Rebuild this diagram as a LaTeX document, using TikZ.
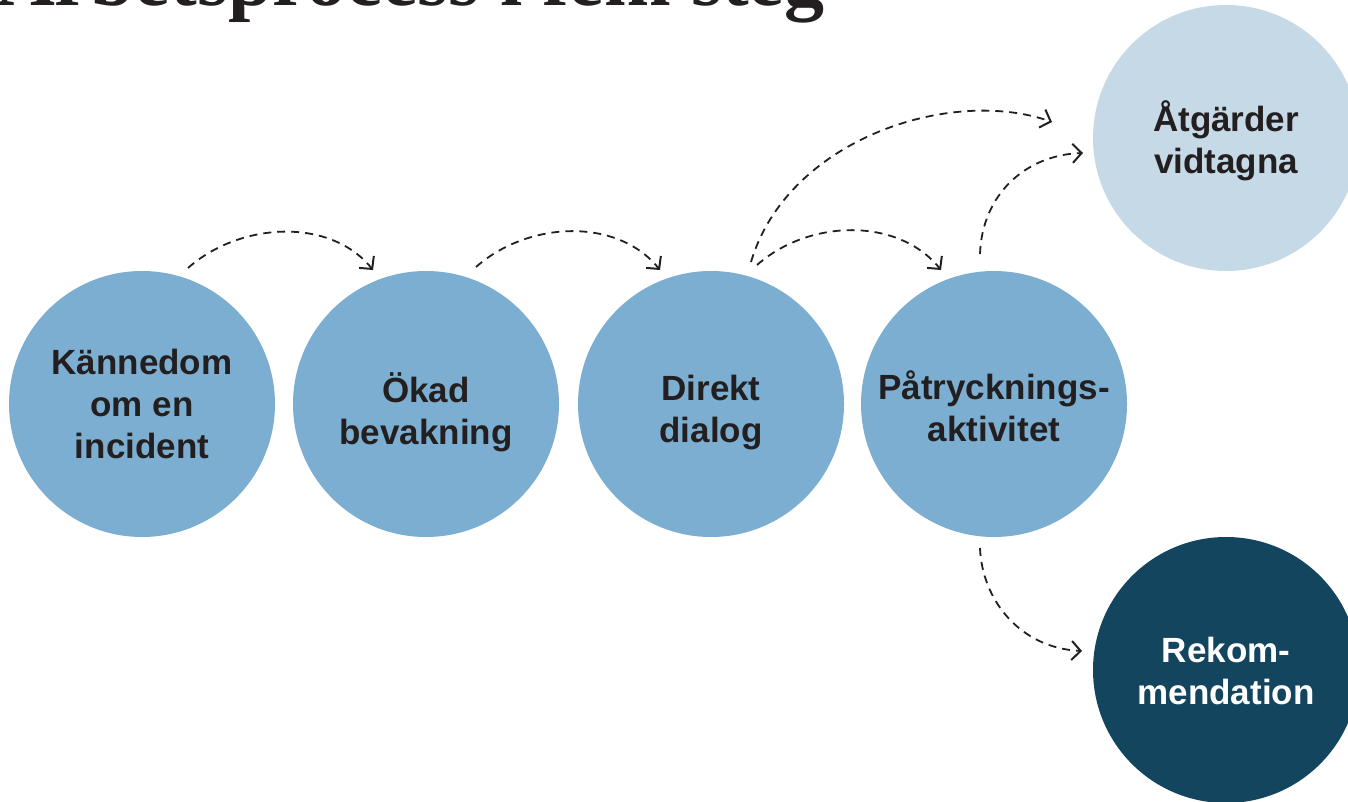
\documentclass[tikz,border=0pt]{standalone}
\usepackage{fontspec}
\setmainfont{Liberation Sans}
\newfontfamily\titlefont{Liberation Serif}
\usetikzlibrary{arrows.meta,calc}
\definecolor{midblue}{HTML}{7BAED0}
\definecolor{lightblue}{HTML}{C5D9E7}
\definecolor{darkblue}{HTML}{13455F}
\definecolor{ink}{HTML}{231F20}
\tikzset{
  stepcircle/.style={circle, minimum size=266pt, inner sep=0pt, fill=midblue},
  lightcircle/.style={stepcircle, fill=lightblue},
  darkcircle/.style={stepcircle, fill=darkblue},
  steptext/.style={text=ink, align=center, inner sep=0pt,
    font=\fontsize{35}{42}\selectfont\bfseries},
  whitetext/.style={steptext, text=white},
  flow/.style={line width=1.8pt, ink, dash pattern=on 8pt off 6pt,
    -{Straight Barb[length=9pt,width=19pt,line width=2pt]}},
}
\begin{document}
\begin{tikzpicture}[x=1pt,y=-1pt]
\clip (0,0) rectangle (1348,802);
\node[anchor=base west, inner sep=0pt, text=ink, font=\titlefont\fontsize{80}{80}\selectfont\bfseries] (title) at (-3,6) {Arbetsprocess i fem steg};
\node[stepcircle, label={[steptext]center:Kännedom\\om en\\incident}] (k) at (142,404) {};
\node[stepcircle, label={[steptext, yshift=-8pt]center:Ökad\\bevakning}] (o) at (426,404) {};
\node[stepcircle, label={[steptext, yshift=-9pt]center:Direkt\\dialog}] (d) at (711,404) {};
\node[stepcircle, label={[steptext, yshift=-2pt]center:Påtrycknings-\\aktivitet}] (p) at (994,404) {};
\node[lightcircle, label={[steptext, yshift=-3pt]center:Åtgärder\\vidtagna}] (a) at (1226,138) {};
\node[darkcircle, label={[whitetext, yshift=-1pt]center:Rekom-\\mendation}] (r) at (1226,670) {};
% connector end points
\coordinate (k1) at ($(k.center)+(46,-136)$);
\coordinate (o0) at ($(o.center)+(-53,-134)$);
\coordinate (o1) at ($(o.center)+(50,-137)$);
\coordinate (d0) at ($(d.center)+(-51,-134)$);
\coordinate (d1) at ($(d.center)+(46,-139)$);
\coordinate (d2) at ($(d.center)+(40,-142)$);
\coordinate (p0) at ($(p.center)+(-53,-134)$);
\coordinate (p1) at ($(p.center)+(-14,-150)$);
\coordinate (p2) at ($(p.center)+(-14,144)$);
\coordinate (a0) at ($(a.center)+(-174,-16)$);
\coordinate (a1) at ($(a.center)+(-143,15)$);
\coordinate (r0) at ($(r.center)+(-144,-19)$);
\draw[flow] (k1) .. controls ($(k1)+(52,-46)$) and ($(o0)+(-43,-53)$) .. (o0);
\draw[flow] (o1) .. controls ($(o1)+(52,-46)$) and ($(d0)+(-43,-53)$) .. (d0);
\draw[flow] (d1) .. controls ($(d1)+(52,-46)$) and ($(p0)+(-43,-53)$) .. (p0);
\draw[flow] (d2) .. controls (787,140) and (950,86) .. (a0);
\draw[flow] (p1) .. controls (982,195) and (1025,155) .. (a1);
\draw[flow] (p2) .. controls (982,600) and (1020,648) .. (r0);
\end{tikzpicture}
\end{document}
